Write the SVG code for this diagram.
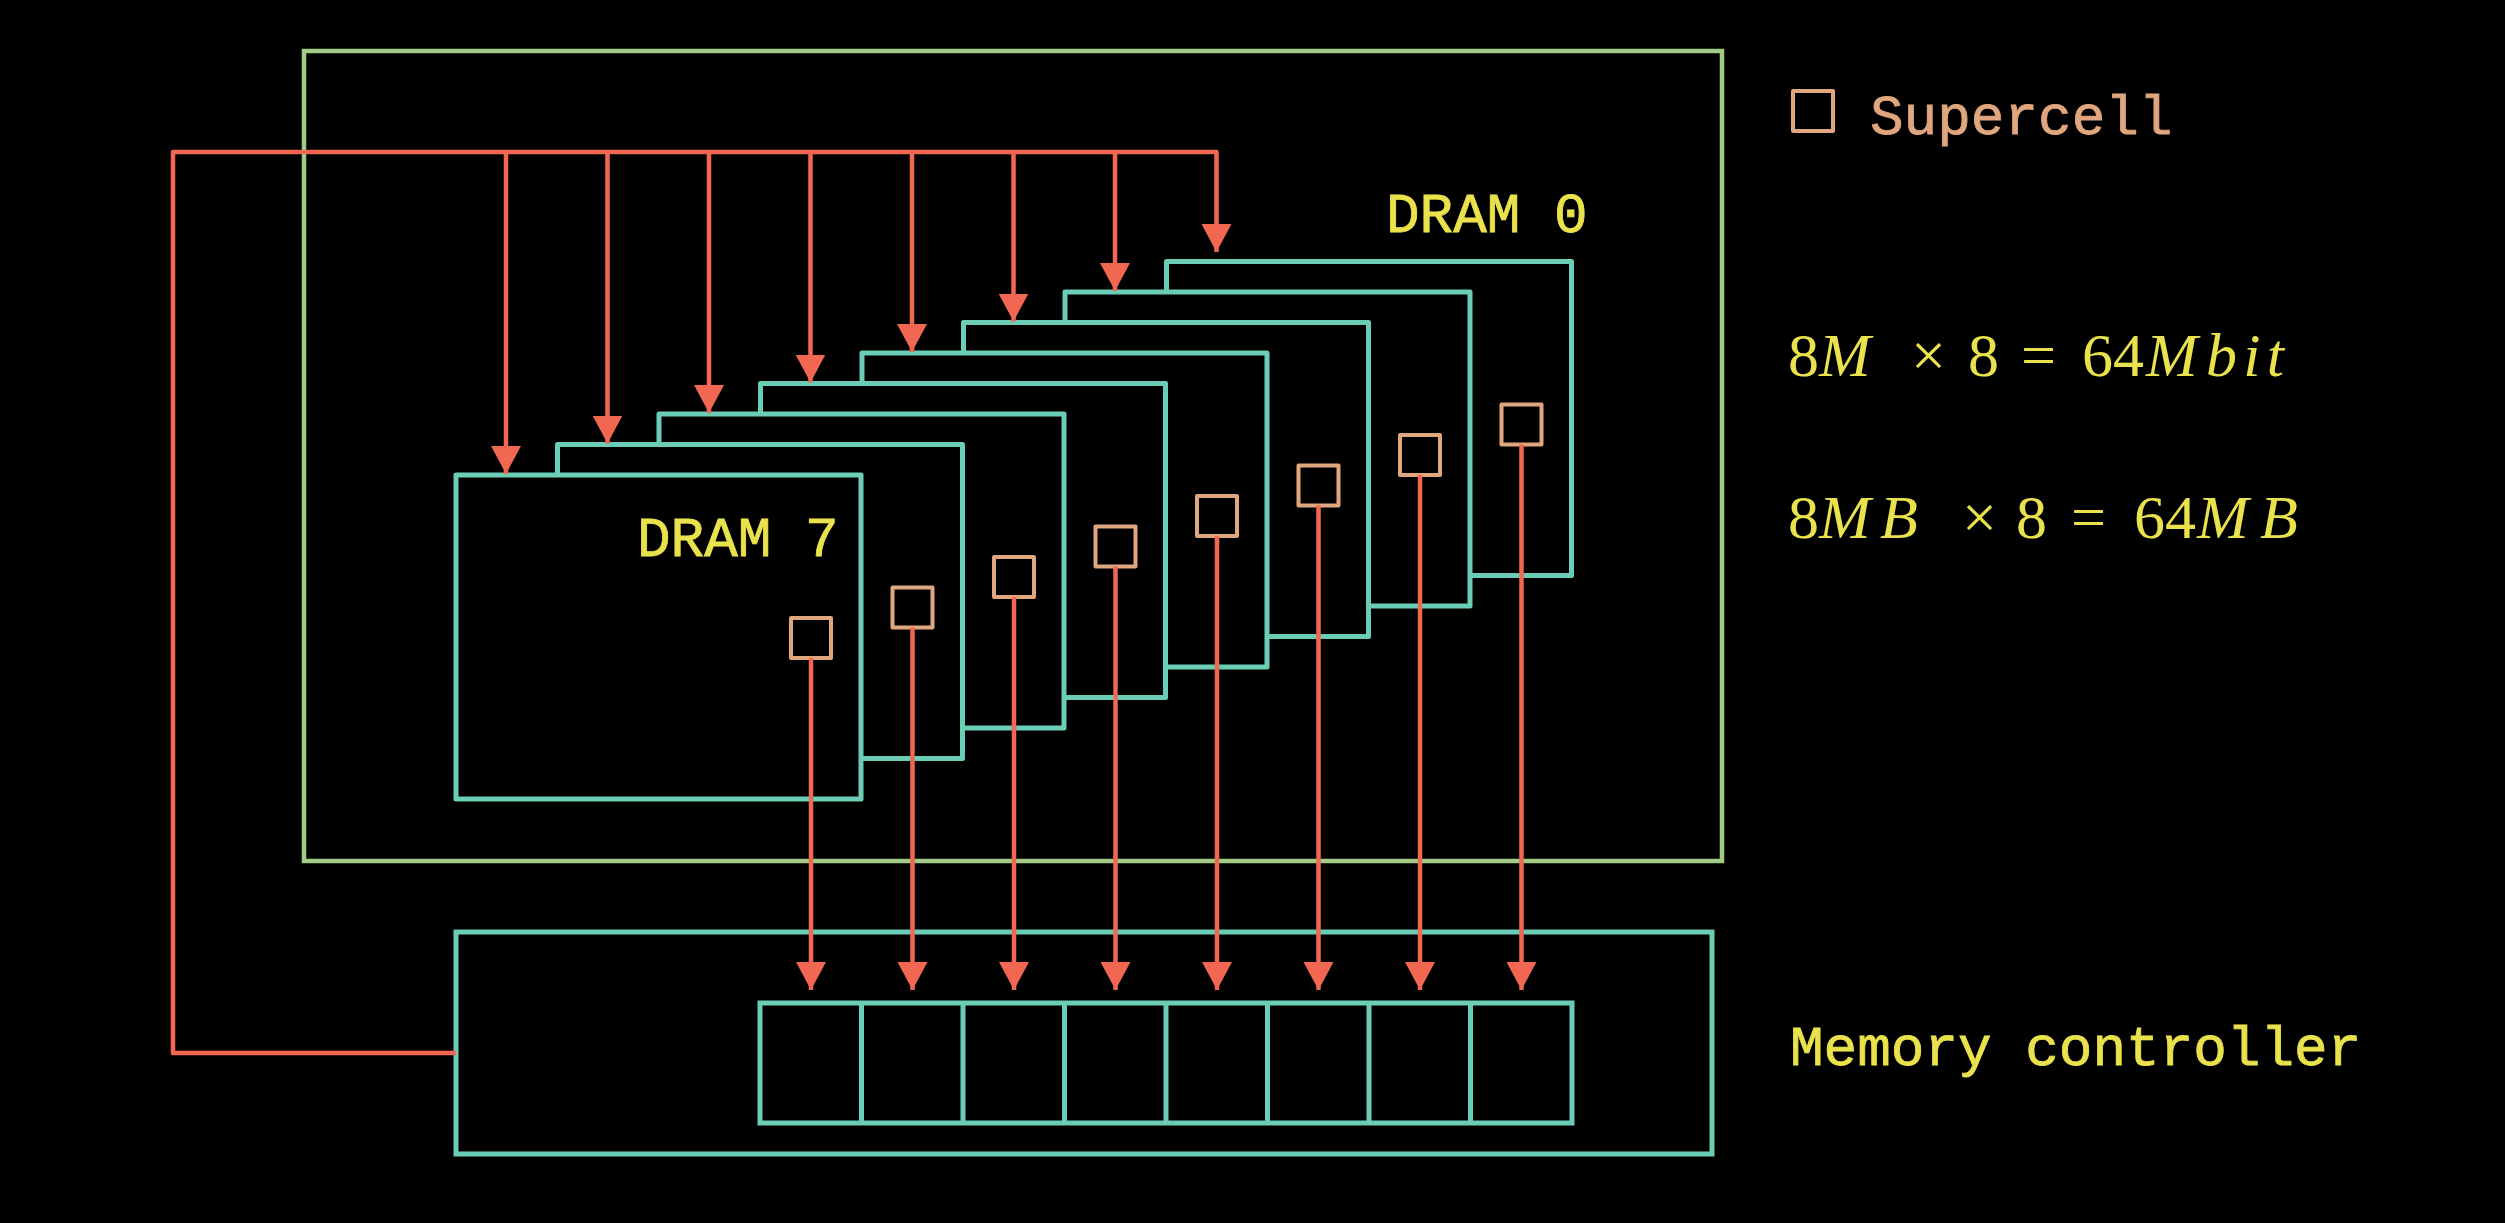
<svg xmlns="http://www.w3.org/2000/svg" width="2505" height="1223" viewBox="0 0 2505 1223">
<defs>
<style>
.bg{fill:#000}
.green{fill:none;stroke:#A2CB88;stroke-width:4.5}
.dram{fill:#000;stroke:#6CCDB6;stroke-width:5;stroke-linejoin:round}
.mc{fill:none;stroke:#6CCDB6;stroke-width:5}
.cell{fill:none;stroke:#E0A77E;stroke-width:4;stroke-linejoin:round}
.wire{fill:none;stroke:#F26752;stroke-width:4.5;stroke-linejoin:round}
.arrow{marker-end:url(#ah)}
.mono{font-family:"Liberation Mono","DejaVu Sans Mono",monospace;font-size:56px;fill:#EAE24C;stroke:#EAE24C;stroke-width:0.8}
.math{font-family:"Liberation Serif","DejaVu Serif",serif;font-size:62px;fill:#EAE24C}
.it{font-style:italic}
</style>
<marker id="ah" markerUnits="userSpaceOnUse" markerWidth="28" markerHeight="30" refX="28" refY="15" orient="auto" viewBox="0 0 28 30">
<path d="M0,0 L28,15 L0,30 z" fill="#F26752"/>
</marker>
</defs>
<rect class="bg" x="0" y="0" width="2505" height="1223"/>

<g id="module">
<rect class="green" x="304" y="51" width="1418" height="810"/>
</g>

<g id="dram0">
<rect class="dram" x="1166.5" y="261.5" width="405" height="314"/>
<rect class="cell" x="1501.5" y="404.5" width="40" height="40"/>
<text class="mono" x="1386" y="232">DRAM 0</text>
</g>
<g id="dram1">
<rect class="dram" x="1065" y="292" width="405" height="314"/>
<rect class="cell" x="1400" y="435" width="40" height="40"/>
</g>
<g id="dram2">
<rect class="dram" x="963.5" y="322.5" width="405" height="314"/>
<rect class="cell" x="1298.5" y="465.5" width="40" height="40"/>
</g>
<g id="dram3">
<rect class="dram" x="862" y="353" width="405" height="314"/>
<rect class="cell" x="1197" y="496" width="40" height="40"/>
</g>
<g id="dram4">
<rect class="dram" x="760.5" y="383.5" width="405" height="314"/>
<rect class="cell" x="1095.5" y="526.5" width="40" height="40"/>
</g>
<g id="dram5">
<rect class="dram" x="659" y="414" width="405" height="314"/>
<rect class="cell" x="994" y="557" width="40" height="40"/>
</g>
<g id="dram6">
<rect class="dram" x="557.5" y="444.5" width="405" height="314"/>
<rect class="cell" x="892.5" y="587.5" width="40" height="40"/>
</g>
<g id="dram7">
<rect class="dram" x="456" y="475" width="405" height="324"/>
<rect class="cell" x="791" y="618" width="40" height="40"/>
<text class="mono" x="637" y="556">DRAM 7</text>
</g>

<g id="memory-controller">
<rect class="mc" x="456" y="932" width="1256" height="222"/>
<rect class="mc" x="760" y="1003" width="812" height="120"/>
<path class="mc" d="M861.5,1003V1123M963,1003V1123M1064.5,1003V1123M1166,1003V1123M1267.5,1003V1123M1369,1003V1123M1470.5,1003V1123"/>
<text class="mono" x="1790" y="1065">Memory controller</text>
</g>

<g id="legend">
<rect class="cell" x="1793" y="91" width="40" height="40"/>
<text class="mono" x="1870" y="134" style="fill:#E0A77E;stroke:#E0A77E">Supercell</text>
</g>

<g id="formula-bits">
<text class="math" x="1788" y="376">8</text>
<text class="math it" x="1819" y="376">M</text>
<text class="math" x="1911" y="376">×</text>
<text class="math" x="1968" y="376">8</text>
<text class="math" x="2021" y="376">=</text>
<text class="math" x="2082" y="376">64</text>
<text class="math it" x="2146" y="376">M</text>
<text class="math it" x="2206" y="376" textLength="78" lengthAdjust="spacing">bit</text>
</g>
<g id="formula-bytes">
<text class="math" x="1788" y="538">8</text>
<text class="math it" x="1819" y="538">M</text>
<text class="math it" x="1880" y="538">B</text>
<text class="math" x="1962" y="538">×</text>
<text class="math" x="2016" y="538">8</text>
<text class="math" x="2071" y="538">=</text>
<text class="math" x="2134" y="538">64</text>
<text class="math it" x="2197" y="538">M</text>
<text class="math it" x="2260" y="538">B</text>
</g>

<g id="connectors">
<path class="wire arrow" d="M456,1053H173V152H1216.5V252"/>
<path class="wire arrow" d="M506,152V474"/>
<path class="wire arrow" d="M607.5,152V443.5"/>
<path class="wire arrow" d="M709,152V413"/>
<path class="wire arrow" d="M810.5,152V382.5"/>
<path class="wire arrow" d="M912,152V352"/>
<path class="wire arrow" d="M1013.5,152V321.5"/>
<path class="wire arrow" d="M1115,152V291"/>
<path class="wire arrow" d="M811,658V990"/>
<path class="wire arrow" d="M912.5,627.5V990"/>
<path class="wire arrow" d="M1014,597V990"/>
<path class="wire arrow" d="M1115.5,566.5V990"/>
<path class="wire arrow" d="M1217,536V990"/>
<path class="wire arrow" d="M1318.5,505.5V990"/>
<path class="wire arrow" d="M1420,475V990"/>
<path class="wire arrow" d="M1521.5,444.5V990"/>
</g>
</svg>
